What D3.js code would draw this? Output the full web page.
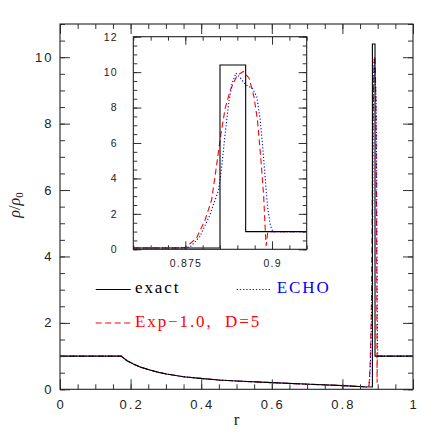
<!DOCTYPE html>
<html><head><meta charset="utf-8">
<script src="https://cdn.jsdelivr.net/npm/d3@7"></script>
<style>
body{margin:0;background:#fff;}
svg{display:block;}
.tl{font-family:"Liberation Sans",sans-serif;fill:#222;}
.lg{font-family:"Liberation Serif",serif;}
</style></head><body>
<script>
// ---- data ----
const smoothR   = [0, 0.173, 0.19, 0.208, 0.23, 0.255, 0.28, 0.302, 0.349, 0.397, 0.449, 0.5, 0.6, 0.708, 0.803, 0.86];
const smoothRho = [1, 1, 0.86, 0.76, 0.66, 0.58, 0.51, 0.46, 0.38, 0.33, 0.28, 0.25, 0.2, 0.15, 0.11, 0.075];

const exactShockR   = [0.885, 0.885, 0.8924, 0.8924, 1.0];
const exactShockRho = [0.07, 10.4, 10.4, 1, 1];

const echoShockR   = [0.865, 0.87, 0.875, 0.8765, 0.8792, 0.8821, 0.8846, 0.8855, 0.8865, 0.8875, 0.8885, 0.8896, 0.8909, 0.8924, 0.8943, 0.8956, 0.8966, 0.8973, 0.898, 0.8987, 0.8995, 0.9002, 1.0];
const echoShockRho = [0.07, 0.07, 0.08, 0.15, 0.72, 1.94, 3.35, 4.67, 6.55, 8.25, 9.38, 9.94, 9.66, 9.28, 9.1, 8.62, 7.3, 5.8, 4.1, 2.4, 1.37, 1.0, 1.0];

const expShockR   = [0.865, 0.872, 0.875, 0.8782, 0.8807, 0.8826, 0.8841, 0.8853, 0.8865, 0.888, 0.8899, 0.8917, 0.8934, 0.8948, 0.8958, 0.8968, 0.8976, 0.898, 0.8983, 0.8988, 0.9, 1.0];
const expShockRho = [0.07, 0.07, 0.1, 0.62, 1.66, 2.8, 4.86, 6.55, 7.97, 9.0, 9.8, 10.04, 9.66, 8.6, 7.3, 5.05, 2.98, 1.28, 0.2, 1.0, 1.0, 1.0];

const mainXTicks = [0, 0.2, 0.4, 0.6, 0.8, 1];
const mainXLabels = ["0", "0.2", "0.4", "0.6", "0.8", "1"];
const mainYTicks = [0, 2, 4, 6, 8, 10];
const insetXTicks = [0.875, 0.9];
const insetXLabels = ["0.875", "0.9"];
const insetYTicks = [0, 2, 4, 6, 8, 10, 12];

const seriesNames = ["exact", "ECHO", "Exp\u22121.0,  D=5"];
const seriesColors = ["#000000", "#0000ff", "#ff0000"];

// ---- build series ----
function pts(rs, ys){ return rs.map((r,i)=>[r, ys[i]]); }
const exactPts = pts(smoothR.concat(exactShockR), smoothRho.concat(exactShockRho));
const echoPts  = pts(smoothR.concat(echoShockR), smoothRho.concat(echoShockRho));
const expPts   = pts(smoothR.concat(expShockR), smoothRho.concat(expShockRho));
const series = [
  {pts: exactPts, color: seriesColors[0], dash: null, w: 1.1},
  {pts: echoPts,  color: seriesColors[1], dash: "1.2,2", w: 1.1},
  {pts: expPts,   color: seriesColors[2], dash: "6,3.5", w: 1.1}
];

const W = 436, H = 436;
const svg = d3.select("body").append("svg").attr("width", W).attr("height", H);

const M = {l: 60, r: 413, t: 24, b: 389.3};
const x = d3.scaleLinear().domain([0, 1]).range([M.l, M.r]);
const y = d3.scaleLinear().domain([0, 11]).range([M.b, M.t]);

const I = {l: 133.3, r: 306.7, t: 36.7, b: 249.3};
const xi = d3.scaleLinear().domain([0.86, 0.91]).range([I.l, I.r]);
const yi = d3.scaleLinear().domain([0, 12]).range([I.b, I.t]);

const defs = svg.append("defs");
defs.append("clipPath").attr("id","cm").append("rect")
  .attr("x", M.l).attr("y", M.t).attr("width", M.r-M.l).attr("height", M.b-M.t);
defs.append("clipPath").attr("id","ci").append("rect")
  .attr("x", I.l).attr("y", I.t).attr("width", I.r-I.l).attr("height", I.b-I.t);

function range(a, b, s){ const out=[]; for(let v=a; v<=b+1e-9; v+=s) out.push(+v.toFixed(6)); return out; }

function ticks(g, axisFn, scale, pos, vals, len, col){
  const ax = axisFn(scale).tickValues(vals).tickSize(-len).tickFormat("");
  const gg = g.append("g").attr("transform", pos).call(ax);
  gg.select(".domain").remove();
  gg.selectAll("line").attr("stroke", col).attr("stroke-width", 1);
}

// main curves
const lineM = d3.line().x(d=>x(d[0])).y(d=>y(d[1]));
const gm = svg.append("g").attr("clip-path","url(#cm)");
series.slice().reverse().forEach(s=>{
  gm.append("path").attr("d", lineM(s.pts)).attr("fill","none")
    .attr("stroke", s.color).attr("stroke-width", s.w)
    .attr("stroke-dasharray", s.dash);
});

// main ticks
const tc = "#333";
const minorX = range(0,1,0.05), minorY = range(0,11,0.5);
ticks(svg, d3.axisBottom, x, `translate(0,${M.b})`, minorX, 5, tc);
ticks(svg, d3.axisBottom, x, `translate(0,${M.b})`, mainXTicks, 10, tc);
ticks(svg, d3.axisTop, x, `translate(0,${M.t})`, minorX, 5, tc);
ticks(svg, d3.axisTop, x, `translate(0,${M.t})`, mainXTicks, 10, tc);
ticks(svg, d3.axisLeft, y, `translate(${M.l},0)`, minorY, 5, tc);
ticks(svg, d3.axisLeft, y, `translate(${M.l},0)`, mainYTicks, 10, tc);
ticks(svg, d3.axisRight, y, `translate(${M.r},0)`, minorY, 5, tc);
ticks(svg, d3.axisRight, y, `translate(${M.r},0)`, mainYTicks, 10, tc);
svg.append("rect").attr("x", M.l).attr("y", M.t).attr("width", M.r-M.l).attr("height", M.b-M.t)
  .attr("fill","none").attr("stroke","#222").attr("stroke-width",1.1);

// main labels
svg.append("g").selectAll("text").data(mainXTicks).join("text").attr("class","tl")
  .attr("x", d=>x(d)+1).attr("y", M.b+19.2).attr("text-anchor","middle")
  .attr("font-size", 13).attr("letter-spacing", 2)
  .text((d,i)=>mainXLabels[i]);
svg.append("g").selectAll("text").data(mainYTicks).join("text").attr("class","tl")
  .attr("x", M.l-6.5).attr("y", d=>y(d)+4.6).attr("text-anchor","end")
  .attr("font-size", 13).attr("letter-spacing", 2)
  .text(d=>d);

svg.append("text").attr("class","lg").attr("x", x(0.5)).attr("y", 425)
  .attr("text-anchor","middle").attr("font-size", 17).attr("fill","#222").text("r");

const yl = svg.append("text").attr("class","lg").attr("transform","translate(20,205) rotate(-90)")
  .attr("text-anchor","middle").attr("font-size", 16).attr("fill","#222");
yl.append("tspan").attr("font-style","italic").text("\u03c1");
yl.append("tspan").text("/");
yl.append("tspan").attr("font-style","italic").text("\u03c1");
yl.append("tspan").attr("font-size", 11).attr("dy", 3).text("0");

// legend
const legY = [289.5, 289.5, 323];
const legX = [95.7, 236.7, 95.7];
const legTextX = [135, 276.7, 135];
seriesNames.forEach((n,i)=>{
  const s = series[i];
  svg.append("line").attr("x1", legX[i]).attr("x2", legX[i]+35).attr("y1", legY[i]).attr("y2", legY[i])
    .attr("stroke", s.color).attr("stroke-width", 1.1).attr("stroke-dasharray", s.dash);
  svg.append("text").attr("class","lg").attr("x", legTextX[i]).attr("y", legY[i]+3.5)
    .attr("font-size", 17).attr("letter-spacing", 1.9).attr("fill", s.color)
    .attr("xml:space","preserve").style("white-space","pre").text(n);
});

// inset
svg.append("rect").attr("x", I.l).attr("y", I.t).attr("width", I.r-I.l).attr("height", I.b-I.t).attr("fill","#fff");
const lineI = d3.line().x(d=>xi(d[0])).y(d=>yi(d[1]));
const gi = svg.append("g").attr("clip-path","url(#ci)");
series.slice().reverse().forEach(s=>{
  gi.append("path").attr("d", lineI(s.pts)).attr("fill","none")
    .attr("stroke", s.color).attr("stroke-width", s.w)
    .attr("stroke-dasharray", s.dash);
});
const minorXi = range(0.86, 0.91, 0.005), minorYi = range(0, 12, 0.5);
ticks(svg, d3.axisBottom, xi, `translate(0,${I.b})`, minorXi, 4, tc);
ticks(svg, d3.axisBottom, xi, `translate(0,${I.b})`, insetXTicks, 8, tc);
ticks(svg, d3.axisTop, xi, `translate(0,${I.t})`, minorXi, 4, tc);
ticks(svg, d3.axisTop, xi, `translate(0,${I.t})`, insetXTicks, 8, tc);
ticks(svg, d3.axisLeft, yi, `translate(${I.l},0)`, minorYi, 4, tc);
ticks(svg, d3.axisLeft, yi, `translate(${I.l},0)`, insetYTicks, 8, tc);
ticks(svg, d3.axisRight, yi, `translate(${I.r},0)`, minorYi, 4, tc);
ticks(svg, d3.axisRight, yi, `translate(${I.r},0)`, insetYTicks, 8, tc);
svg.append("rect").attr("x", I.l).attr("y", I.t).attr("width", I.r-I.l).attr("height", I.b-I.t)
  .attr("fill","none").attr("stroke","#222").attr("stroke-width",1.1);

svg.append("g").selectAll("text").data(insetXTicks).join("text").attr("class","tl")
  .attr("x", d=>xi(d)+0.6).attr("y", I.b+17.4).attr("text-anchor","middle")
  .attr("font-size", 10.5).attr("letter-spacing", 1.2)
  .text((d,i)=>insetXLabels[i]);
svg.append("g").selectAll("text").data(insetYTicks).join("text").attr("class","tl")
  .attr("x", I.l-15.5).attr("y", d=>yi(d)+3.8).attr("text-anchor","end")
  .attr("font-size", 10.5).attr("letter-spacing", 1.2)
  .text(d=>d);
</script>
</body></html>
